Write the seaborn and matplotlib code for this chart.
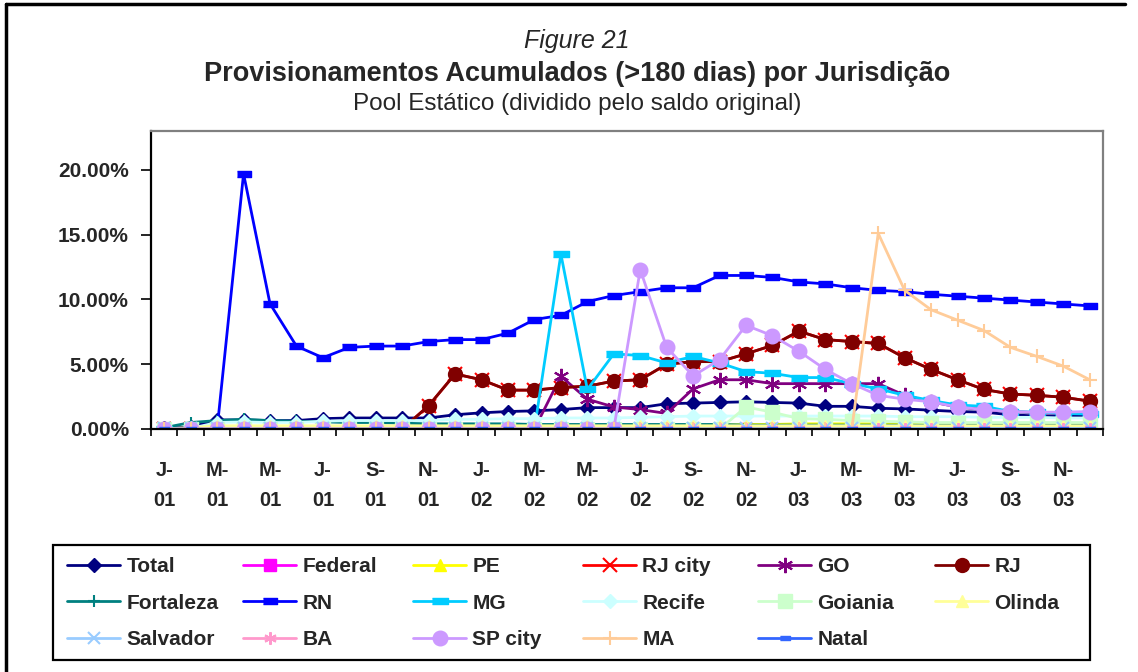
import matplotlib.pyplot as plt
from matplotlib.patches import Rectangle
from matplotlib.lines import Line2D
import numpy as np
import seaborn as sns

sns.set_style('white')
plt.rcParams['font.family'] = ['Liberation Sans', 'DejaVu Sans']

# Categories: Jan-01 .. Dec-03
months = [f'{m}-{y}' for y in ('01', '02', '03')
          for m in ('Jan', 'Feb', 'Mar', 'Apr', 'May', 'Jun',
                    'Jul', 'Aug', 'Sep', 'Oct', 'Nov', 'Dec')]
tick_labels = ['J-\n01', 'M-\n01', 'M-\n01', 'J-\n01', 'S-\n01', 'N-\n01',
               'J-\n02', 'M-\n02', 'M-\n02', 'J-\n02', 'S-\n02', 'N-\n02',
               'J-\n03', 'M-\n03', 'M-\n03', 'J-\n03', 'S-\n03', 'N-\n03']

# values in %
total = [0.05, 0.15, 0.7, 0.7, 0.65, 0.65, 0.8, 0.85, 0.85, 0.85,
         0.85, 1.1, 1.25, 1.35, 1.4, 1.5, 1.65, 1.65, 1.65, 1.95,
         2.0, 2.05, 2.1, 2.05, 2.0, 1.75, 1.75, 1.6, 1.55, 1.45,
         1.35, 1.3, 1.1, 1.0, 1.0, 1.0]
federal = [0.0] * 36
pe = [0.0, 0.1, 0.2, 0.2, 0.2, 0.2, 0.2, 0.2, 0.2, 0.2,
      0.2, 0.2, 0.2, 0.2, 0.2, 0.2, 0.2, 0.25, 0.25, 0.25,
      0.3, 0.3, 0.35, 0.35, 0.4, 0.4, 0.4, 0.4, 0.4, 0.4,
      0.4, 0.4, 0.4, 0.4, 0.4, 0.4]
rj = [0.0, 0.0, 0.0, 0.0, 0.0, 0.0, 0.0, 0.0, 0.0, 0.0,
      1.8, 4.25, 3.8, 3.0, 3.0, 3.2, 3.3, 3.7, 3.8, 5.0,
      5.2, 5.2, 5.8, 6.45, 7.55, 6.9, 6.75, 6.6, 5.5, 4.6,
      3.8, 3.05, 2.7, 2.6, 2.45, 2.15]
rj_city = list(rj)
go = [0.0, 0.0, 0.0, 0.0, 0.0, 0.0, 0.0, 0.0, 0.0, 0.0,
      0.0, 0.0, 0.0, 0.0, 0.0, 4.07, 2.3, 1.7, 1.5, 1.2,
      3.1, 3.8, 3.8, 3.5, 3.5, 3.5, 3.5, 3.5, 2.6, 2.1,
      1.7, 1.5, 1.35, 1.25, 1.2, 1.2]
fortaleza = [0.1, 0.5, 0.65, 0.75, 0.65, 0.6, 0.55, 0.5, 0.5, 0.45,
             0.4, 0.4, 0.4, 0.4, 0.35, 0.35, 0.35, 0.35, 0.35, 0.35,
             0.35, 0.35, 0.3, 0.3, 0.3, 0.3, 0.3, 0.3, 0.3, 0.3,
             0.3, 0.3, 0.3, 0.3, 0.3, 0.3]
rn = [0.0, 0.0, 0.0, 19.7, 9.67, 6.4, 5.5, 6.3, 6.4, 6.4,
      6.75, 6.9, 6.9, 7.4, 8.45, 8.77, 9.83, 10.3, 10.6, 10.9,
      10.9, 11.85, 11.85, 11.7, 11.35, 11.2, 10.9, 10.7, 10.6, 10.4,
      10.25, 10.1, 9.95, 9.8, 9.65, 9.5]
mg = [0.0, 0.0, 0.0, 0.0, 0.0, 0.0, 0.0, 0.0, 0.0, 0.0,
      0.0, 0.0, 0.0, 0.0, 0.0, 13.5, 3.05, 5.8, 5.67, 5.1,
      5.6, 5.1, 4.43, 4.3, 3.97, 3.97, 3.5, 3.1, 2.6, 2.2,
      1.85, 1.75, 1.35, 1.3, 1.2, 1.15]
recife = [0.0, 0.05, 0.5, 0.55, 0.5, 0.5, 0.6, 0.65, 0.65, 0.65,
          0.65, 0.75, 0.75, 0.8, 0.8, 0.85, 0.85, 0.85, 0.9, 0.95,
          1.0, 1.0, 1.0, 1.0, 1.0, 1.0, 1.0, 1.0, 0.95, 0.95,
          0.95, 0.9, 0.9, 0.9, 0.85, 0.85]
goiania = [0.0, 0.0, 0.0, 0.0, 0.0, 0.0, 0.0, 0.0, 0.0, 0.0,
           0.0, 0.0, 0.0, 0.0, 0.0, 0.0, 0.0, 0.0, 0.0, 0.0,
           0.0, 0.0, 1.7, 1.3, 0.8, 0.75, 0.65, 0.6, 0.55, 0.5,
           0.5, 0.5, 0.5, 0.5, 0.5, 0.5]
olinda = [0.0, 0.1, 0.25, 0.25, 0.25, 0.25, 0.25, 0.25, 0.25, 0.25,
          0.25, 0.25, 0.25, 0.25, 0.25, 0.25, 0.25, 0.25, 0.25, 0.25,
          0.25, 0.25, 0.25, 0.25, 0.25, 0.25, 0.25, 0.25, 0.25, 0.25,
          0.25, 0.25, 0.25, 0.25, 0.25, 0.25]
salvador = [0.05] * 36
ba = [0.0] * 36
sp_city = [0.0, 0.0, 0.0, 0.0, 0.0, 0.0, 0.0, 0.0, 0.0, 0.0,
           0.0, 0.0, 0.0, 0.0, 0.0, 0.0, 0.0, 0.0, 12.3, 6.3,
           4.1, 5.35, 8.0, 7.2, 6.0, 4.6, 3.5, 2.6, 2.3, 2.1,
           1.7, 1.5, 1.35, 1.3, 1.3, 1.35]
ma = [0.0, 0.0, 0.0, 0.0, 0.0, 0.0, 0.0, 0.0, 0.0, 0.0,
      0.0, 0.0, 0.0, 0.0, 0.0, 0.0, 0.0, 0.0, 0.0, 0.0,
      0.0, 0.0, 0.0, 0.0, 0.0, 0.0, 0.0, 15.1, 10.7, 9.2,
      8.4, 7.6, 6.3, 5.6, 4.85, 3.8]
natal = [0.0] * 36

# marker shapes
rect_rn = [(-1, -0.5), (1, -0.5), (1, 0.5), (-1, 0.5)]
rect_mg = [(-1, -0.38), (1, -0.38), (1, 0.38), (-1, 0.38)]
aster = (6, 2, 0)

series = [
    ('Total', total, '#000080', 'D', 7.5, 1),
    ('Federal', federal, '#FF00FF', 's', 9, 1),
    ('PE', pe, '#FFFF00', '^', 9, 1),
    ('RJ city', rj_city, '#FF0000', 'x', 10, 1.5),
    ('GO', go, '#800080', aster, 11, 1.5),
    ('RJ', rj, '#800000', 'o', 10, 1),
    ('Fortaleza', fortaleza, '#008080', '+', 8, 1.5),
    ('RN', rn, '#0000FF', rect_rn, 9.5, 1),
    ('MG', mg, '#00CCFF', rect_mg, 12, 1),
    ('Recife', recife, '#CCFFFF', 'D', 7.5, 1),
    ('Goiania', goiania, '#CCFFCC', 's', 9.5, 1),
    ('Olinda', olinda, '#FFFF99', '^', 9, 1),
    ('Salvador', salvador, '#99CCFF', 'x', 9, 1.5),
    ('BA', ba, '#FF99CC', aster, 9, 1.5),
    ('SP city', sp_city, '#CC99FF', 'o', 10.5, 1),
    ('MA', ma, '#FFCC99', '+', 10, 1.5),
    ('Natal', natal, '#3366FF', rect_rn, 7, 1),
]

x = np.arange(len(months))

fig = plt.figure(figsize=(11.38, 6.72), dpi=100)
ax = fig.add_axes([151 / 1138, 1 - 429 / 672, 952 / 1138, 298 / 672])

for name, vals, color, marker, ms, mew in series:
    sns.lineplot(x=x, y=vals, ax=ax, color=color, lw=2, marker=marker,
                 markersize=ms, markerfacecolor=color, markeredgecolor=color,
                 markeredgewidth=mew, label=name, legend=False,
                 errorbar=None, sort=False)

ax.set_xlim(-0.5, 35.5)
ax.set_ylim(0, 23)
ax.set_xlabel('')
ax.set_ylabel('')

ax.set_xticks(x[::2])
ax.set_xticklabels(tick_labels, fontweight='bold', fontsize=14.5,
                   linespacing=1.75)
ax.set_xticks(np.arange(-0.5, 36, 1), minor=True)
ax.tick_params(axis='x', which='major', length=0, pad=23)
ax.tick_params(axis='x', which='minor', length=5, width=1.2,
               direction='out', bottom=True, color='black')

yt = [0, 5, 10, 15, 20]
ax.set_yticks(yt)
ax.set_yticklabels([f'{v:.2f}%' for v in yt], fontweight='bold', fontsize=15)
ax.tick_params(axis='y', length=7, width=1.2, direction='out', left=True,
               pad=9, color='black')

for side in ('left', 'bottom'):
    ax.spines[side].set_color('black')
    ax.spines[side].set_linewidth(1.6)
for side in ('top', 'right'):
    ax.spines[side].set_color('#808080')
    ax.spines[side].set_linewidth(1.6)

# titles
fig.text(0.507, 1 - 48 / 672, 'Figure 21', ha='center', va='baseline',
         fontsize=18, fontstyle='italic')
fig.text(0.507, 1 - 81 / 672,
         'Provisionamentos Acumulados (>180 dias) por Jurisdição',
         ha='center', va='baseline', fontsize=19.5, fontweight='bold')
fig.text(0.507, 1 - 110 / 672, 'Pool Estático (dividido pelo saldo original)',
         ha='center', va='baseline', fontsize=17.5)

# legend: 6 columns, 3 rows, inside a framed box
handles, labels = ax.get_legend_handles_labels()
col_x = [67, 243, 413, 583, 758, 935]
for c, px in enumerate(col_x):
    fig.legend(handles[c::6], labels[c::6], loc='upper left',
               bbox_to_anchor=(px / 1138, 1 - 557 / 672), frameon=False,
               borderpad=0, borderaxespad=0, handlelength=2.55,
               handletextpad=0.3, labelspacing=0.85,
               prop={'weight': 'bold', 'size': 15})

fig.add_artist(Rectangle((53 / 1138, 1 - 660 / 672), 1037 / 1138, 115 / 672,
                         transform=fig.transFigure, fill=False,
                         edgecolor='black', lw=1.6))

# outer chart border (only top and left edges are in the picture)
fig.add_artist(Line2D([6 / 1138, 6 / 1138], [0, 1 - 4 / 672],
                      transform=fig.transFigure, color='black', lw=2.5))
fig.add_artist(Line2D([6 / 1138, 1125 / 1138], [1 - 4 / 672, 1 - 4 / 672],
                      transform=fig.transFigure, color='black', lw=2.5))

fig.savefig('out.png', dpi=100, facecolor='white')
